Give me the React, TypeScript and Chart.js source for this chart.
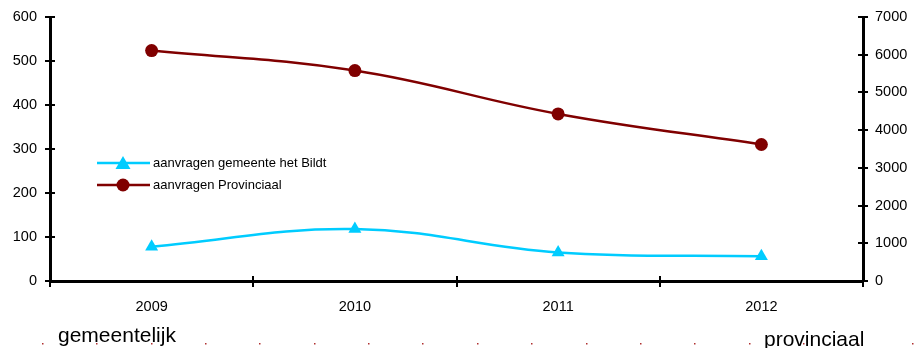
import React, { useEffect, useRef } from "react";
import { Chart, registerables } from "chart.js";

Chart.register(...registerables);

const years = ["2009", "2010", "2011", "2012"];
const gemeenteValues = [78, 118, 65, 56];
const provinciaalValues = [6110, 5580, 4430, 3620];
const leftTicks = [0, 100, 200, 300, 400, 500, 600];
const rightTicks = [0, 1000, 2000, 3000, 4000, 5000, 6000, 7000];
const seriesNames = ["aanvragen gemeente het Bildt", "aanvragen Provinciaal"];
const footLeft = "gemeentelijk";
const footRight = "provinciaal";

const CYAN = "#00CCFF";
const DARKRED = "#800000";
const FONT = "Liberation Sans, Arial, sans-serif";
const TICK_FONT = { family: FONT, size: 14.5 };

// Crossing tick marks on all three axes, in-plot legend and the footer strip
const decorations = {
  id: "decorations",
  afterDraw(chart: any) {
    const { ctx, chartArea, scales } = chart;
    ctx.save();
    ctx.strokeStyle = "#000";
    ctx.lineWidth = 2;

    const yL = scales.y;
    const yR = scales.y1;
    yL.ticks.forEach((_: any, i: number) => {
      const py = Math.round(yL.getPixelForTick(i));
      ctx.beginPath();
      ctx.moveTo(chartArea.left - 5, py);
      ctx.lineTo(chartArea.left + 5, py);
      ctx.stroke();
    });
    yR.ticks.forEach((_: any, i: number) => {
      const py = Math.round(yR.getPixelForTick(i));
      ctx.beginPath();
      ctx.moveTo(chartArea.right - 5, py);
      ctx.lineTo(chartArea.right + 5, py);
      ctx.stroke();
    });
    const xs = scales.x;
    const half = (xs.getPixelForValue(1) - xs.getPixelForValue(0)) / 2;
    for (let k = 0; k <= years.length; k++) {
      const px = Math.round(xs.getPixelForValue(0) - half + k * half * 2);
      ctx.beginPath();
      ctx.moveTo(px, chartArea.bottom - 5);
      ctx.lineTo(px, chartArea.bottom + 6);
      ctx.stroke();
    }

    // legend
    const entries = [
      { name: seriesNames[0], color: CYAN, shape: "triangle", y: 163 },
      { name: seriesNames[1], color: DARKRED, shape: "circle", y: 185 },
    ];
    entries.forEach((e) => {
      ctx.strokeStyle = e.color;
      ctx.lineWidth = 2.5;
      ctx.beginPath();
      ctx.moveTo(97, e.y);
      ctx.lineTo(150, e.y);
      ctx.stroke();
      ctx.fillStyle = e.color;
      ctx.beginPath();
      if (e.shape === "circle") {
        ctx.arc(123, e.y, 6.5, 0, Math.PI * 2);
      } else {
        ctx.moveTo(123, e.y - 7);
        ctx.lineTo(130.5, e.y + 6);
        ctx.lineTo(115.5, e.y + 6);
        ctx.closePath();
      }
      ctx.fill();
      ctx.fillStyle = "#000";
      ctx.font = `13px ${FONT}`;
      ctx.textBaseline = "middle";
      ctx.textAlign = "left";
      ctx.fillText(e.name, 153, e.y + 0.5);
    });

    // footer: dotted rule with the two side captions
    ctx.fillStyle = "#B03030";
    for (let px = 42; px <= 912; px += 54.35) {
      ctx.fillRect(Math.round(px), 343, 1.5, 1.5);
    }
    ctx.fillStyle = "#000";
    ctx.textBaseline = "alphabetic";
    ctx.font = `21px ${FONT}`;
    ctx.fillText(footLeft, 58, 342);
    ctx.fillText(footRight, 764, 346);
    ctx.restore();
  },
};

// fixed axis band sizes; label overflow padding is dropped so the plot spans 17..281
const fitVertical = (width: number) => (s: any) => {
  s.width = width;
  s.paddingTop = 0;
  s.paddingBottom = 0;
};

export default function App() {
  const ref = useRef<HTMLCanvasElement>(null);

  useEffect(() => {
    if (!ref.current) return;
    const chart = new Chart(ref.current, {
      type: "line",
      data: {
        labels: years,
        datasets: [
          {
            label: seriesNames[0],
            data: gemeenteValues,
            yAxisID: "y",
            borderColor: CYAN,
            backgroundColor: CYAN,
            borderWidth: 2.5,
            pointStyle: "triangle",
            pointRadius: 7.5,
            pointBorderWidth: 0,
            tension: 0.4,
          },
          {
            label: seriesNames[1],
            data: provinciaalValues,
            yAxisID: "y1",
            borderColor: DARKRED,
            backgroundColor: DARKRED,
            borderWidth: 2.5,
            pointStyle: "circle",
            pointRadius: 6.5,
            pointBorderWidth: 0,
            tension: 0.4,
          },
        ],
      },
      options: {
        responsive: false,
        animation: false,
        layout: { padding: { top: 17, left: 0, right: 0, bottom: 0 } },
        plugins: {
          legend: { display: false },
          tooltip: { enabled: false },
        },
        scales: {
          x: {
            type: "category",
            offset: true,
            grid: { display: false, drawTicks: false, offset: true },
            border: { display: true, color: "#000", width: 3 },
            ticks: { color: "#000", font: TICK_FONT, padding: 17, maxRotation: 0 },
            afterFit: (s: any) => {
              s.height = 67;
              s.paddingLeft = 0;
              s.paddingRight = 0;
            },
          },
          y: {
            position: "left",
            min: leftTicks[0],
            max: leftTicks[leftTicks.length - 1],
            afterBuildTicks: (s: any) => {
              s.ticks = leftTicks.map((v) => ({ value: v }));
            },
            grid: { display: false, drawTicks: false },
            border: { display: true, color: "#000", width: 3 },
            ticks: { color: "#000", font: TICK_FONT, padding: 13, callback: (v: any) => String(v) },
            afterFit: fitVertical(50),
          },
          y1: {
            position: "right",
            min: rightTicks[0],
            max: rightTicks[rightTicks.length - 1],
            afterBuildTicks: (s: any) => {
              s.ticks = rightTicks.map((v) => ({ value: v }));
            },
            grid: { display: false, drawTicks: false },
            border: { display: true, color: "#000", width: 3 },
            ticks: { color: "#000", font: TICK_FONT, padding: 12, callback: (v: any) => String(v) },
            afterFit: fitVertical(51),
          },
        },
      },
      plugins: [decorations],
    });
    return () => chart.destroy();
  }, []);

  return (
    <div style={{ position: "fixed", left: 0, top: 0, width: 914, height: 348, background: "#fff" }}>
      <canvas ref={ref} width={914} height={348} />
    </div>
  );
}
